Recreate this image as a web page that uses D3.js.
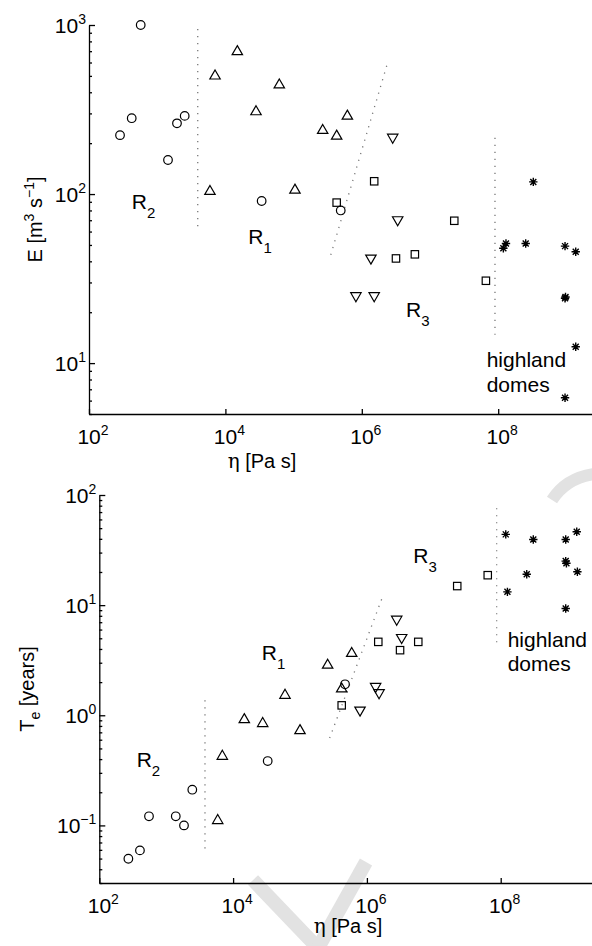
<!DOCTYPE html>
<html>
<head>
<meta charset="utf-8">
<script src="https://cdnjs.cloudflare.com/ajax/libs/d3/7.8.5/d3.min.js"></script>
<style>
body { margin: 0; background: #fff; }
text { font-family: "Liberation Sans", Arial, Helvetica, sans-serif; fill: #000; }
</style>
</head>
<body>
<div id="chart"></div>
<script>
// ---- data: [eta (Pa s), value] ----
var topCircles = [[573,1000],[285,223],[423,281],[1440,159],[1950,262],[2530,290],[34000,91],[491000,80]];
var topUp      = [[7050,506],[14960,705],[61700,448],[28100,311],[5940,105],[104700,107],[267000,241],[428000,223],[614000,293]];
var topDown    = [[2.84e6,214],[3.36e6,69.5],[1.36e6,41.2],[8.2e5,24.7],[1.52e6,24.7]];
var topSquares = [[428000,89],[1.52e6,119],[3.17e6,41.6],[6.0e6,44],[2.27e7,69.5],[6.6e7,30.7]];
var topStars   = [[3.27e8,118],[1.3e8,51],[1.19e8,47.8],[2.53e8,51],[9.55e8,49.2],[1.37e9,45.6],[9.55e8,24.2],[9.7e8,24.6],[1.37e9,12.5],[9.55e8,6.24]];
var topGuides  = [[[3930,947],[3930,62]], [[2.32e6,574],[3.5e5,43.5]], [[8.97e7,215],[8.97e7,14.7]]];

var botCircles = [[272,0.0498],[405,0.0593],[553,0.121],[1390,0.121],[1845,0.1],[2455,0.211],[32900,0.384],[471000,1.91]];
var botUp      = [[5890,0.113],[6900,0.433],[14700,0.933],[27700,0.859],[59700,1.55],[100000,0.741],[259000,2.91],[593000,3.72],[420000,1.77]];
var botDown    = [[789000,1.09],[1.35e6,1.79],[1.52e6,1.57],[2.79e6,7.3],[3.31e6,4.98]];
var botSquares = [[420000,1.23],[1.48e6,4.64],[3.13e6,3.9],[5.86e6,4.64],[2.24e7,14.9],[6.4e7,18.7]];
var botStars   = [[1.19e8,43.9],[3.07e8,39.5],[9.37e8,39.5],[1.37e9,46.4],[9.37e8,25.1],[9.6e8,24.0],[1.4e9,20.1],[2.45e8,19.1],[1.26e8,13.2],[9.37e8,9.33]];
var botGuides  = [[[3800,1.37],[3800,0.0556]], [[1.66e6,11.3],[2.6e5,0.56]], [[8.7e7,76],[8.7e7,4.07]]];

// region labels: [eta, value, main, subscript]
var topNotes = [[423,81.7,"R","2"],[21700,50.8,"R","1"],[4.45e6,18.8,"R","3"],[6.78e7,9.52,"highland",""],[6.78e7,6.78,"domes",""]];
var botNotes = [[362,0.339,"R","2"],[26800,3.16,"R","1"],[4.94e6,23.9,"R","3"],[1.27e8,4.18,"highland",""],[1.27e8,2.51,"domes",""]];

var xTicks = [2,4,6,8];
var topYTicks = [1,2,3];
var botYTicks = [-1,0,1,2];

var svg = d3.select("#chart")
  .append("svg")
    .attr("width", 592)
    .attr("height", 946);

// faint watermark strokes behind everything
var wm = svg.append("g").attr("fill", "none").attr("stroke", "#e2e2e2").attr("stroke-width", 14);
wm.append("path").attr("d", "M253,880 L318,948");
wm.append("path").attr("d", "M318,948 L366,862");
wm.append("path").attr("d", "M552,500 Q566,478 594,474").attr("stroke-width", 12);

function supLabel(g, x, y, base, sup, anchor) {
  var t = g.append("text")
    .attr("x", x).attr("y", y)
    .attr("text-anchor", anchor)
    .style("font-size", "21px");
  t.append("tspan").text(base);
  t.append("tspan").attr("dy", -9).style("font-size", "14px").text(sup);
  return t;
}

function markers(g, data, x, y, shape) {
  var sel = g.selectAll(null).data(data).enter().append("g")
    .attr("transform", function(d) { return "translate(" + x(d[0]) + "," + y(d[1]) + ")"; })
    .attr("fill", "none").attr("stroke", "#000").attr("stroke-width", 1.2);
  if (shape == "circle") sel.append("circle").attr("r", 4.3);
  if (shape == "up") sel.append("path").attr("d", "M0,-5L5.2,4L-5.2,4Z");
  if (shape == "down") sel.append("path").attr("d", "M0,5L5.2,-4L-5.2,-4Z");
  if (shape == "square") sel.append("rect").attr("x", -3.7).attr("y", -3.7).attr("width", 7.4).attr("height", 7.4);
  if (shape == "star") {
    sel.attr("stroke-width", 1.4);
    sel.append("path").attr("d", "M-4.2,0H4.2M0,-4.2V4.2M-3,-3L3,3M-3,3L3,-3");
  }
}

function panel(p) {
  var g = svg.append("g");
  var x = d3.scaleLog().domain([1e2, 1e10]).range([p.left, p.left + 8 * p.perDec]);
  var y = d3.scaleLog().domain(p.yDomain).range([p.bottom, p.top]);

  // y axis with minor ticks pointing inward
  var yVals = [];
  for (var e = Math.floor(Math.log10(p.yDomain[0])); e <= Math.log10(p.yDomain[1]); e++) {
    for (var m = 1; m < 10; m++) {
      var v = m * Math.pow(10, e);
      if (v >= p.yDomain[0] * 0.999 && v <= p.yDomain[1] * 1.001) yVals.push(v);
    }
  }
  var yAxis = g.append("g")
    .attr("transform", "translate(" + p.left + ",0)")
    .call(d3.axisLeft(y).tickValues(yVals).tickSize(-3).tickSizeOuter(0).tickFormat(""));
  yAxis.selectAll(".tick line")
    .attr("x2", function(d) { return Math.abs(Math.log10(d) - Math.round(Math.log10(d))) < 1e-6 ? 6 : 3; });

  g.append("g")
    .attr("transform", "translate(0," + p.bottom + ")")
    .call(d3.axisBottom(x).tickValues(xTicks.map(function(d) { return Math.pow(10, d); }))
      .tickSize(-5).tickSizeOuter(0).tickFormat(""));

  g.selectAll(".domain, .tick line").attr("stroke", "#000").attr("stroke-width", 1.3);

  // tick labels as 10^n
  xTicks.forEach(function(d) {
    supLabel(g, x(Math.pow(10, d)) + 4, p.bottom + 30, "10", String(d), "middle");
  });
  p.yTicks.forEach(function(d) {
    supLabel(g, p.left - 3, y(Math.pow(10, d)) + 7.5, "10", d < 0 ? "\u2212" + (-d) : String(d), "end");
  });

  // dotted guide lines
  g.selectAll(null).data(p.guides).enter().append("path")
    .attr("d", d3.line().x(function(d) { return x(d[0]); }).y(function(d) { return y(d[1]); }))
    .attr("fill", "none")
    .attr("stroke", "#777")
    .attr("stroke-width", 1.3)
    .attr("stroke-dasharray", "1.2,5.8");

  markers(g, p.circles, x, y, "circle");
  markers(g, p.up, x, y, "up");
  markers(g, p.down, x, y, "down");
  markers(g, p.squares, x, y, "square");
  markers(g, p.stars, x, y, "star");

  // region labels
  p.notes.forEach(function(n) {
    var t = g.append("text").attr("x", x(n[0])).attr("y", y(n[1])).style("font-size", "21px");
    t.append("tspan").text(n[2]);
    if (n[3]) t.append("tspan").attr("dy", 9).style("font-size", "15px").text(n[3]);
  });

  // axis titles
  var xt = g.append("text")
    .attr("x", p.xTitleX).attr("y", p.bottom + p.xTitleDy)
    .attr("text-anchor", "middle")
    .style("font-size", "20px");
  xt.append("tspan").style("font-family", "DejaVu Serif").text("\u03b7");
  xt.append("tspan").text(" [Pa s]");

  var yt = g.append("text")
    .attr("transform", "translate(" + p.yTitleX + "," + (p.top + p.bottom) / 2 + ") rotate(-90)")
    .attr("text-anchor", "middle")
    .style("font-size", "20px");
  p.yTitle(yt);
}

panel({
  left: 89, perDec: 68.2, top: 25, bottom: 414, yDomain: [5, 1000], yTicks: topYTicks,
  circles: topCircles, up: topUp, down: topDown, squares: topSquares, stars: topStars,
  guides: topGuides, notes: topNotes, xTitleX: 262, xTitleDy: 54, yTitleX: 42,
  yTitle: function(t) {
    t.append("tspan").text("E [m");
    t.append("tspan").attr("dy", -8).style("font-size", "14px").text("3");
    t.append("tspan").attr("dy", 8).text(" s");
    t.append("tspan").attr("dy", -8).style("font-size", "14px").text("\u22121");
    t.append("tspan").attr("dy", 8).text("]");
  }
});

panel({
  left: 99.3, perDec: 66.9, top: 495, bottom: 883, yDomain: [0.03, 100], yTicks: botYTicks,
  circles: botCircles, up: botUp, down: botDown, squares: botSquares, stars: botStars,
  guides: botGuides, notes: botNotes, xTitleX: 348, xTitleDy: 50, yTitleX: 34,
  yTitle: function(t) {
    t.append("tspan").text("T");
    t.append("tspan").attr("dy", 6).style("font-size", "14px").text("e");
    t.append("tspan").attr("dy", -6).text(" [years]");
  }
});
</script>
</body>
</html>
